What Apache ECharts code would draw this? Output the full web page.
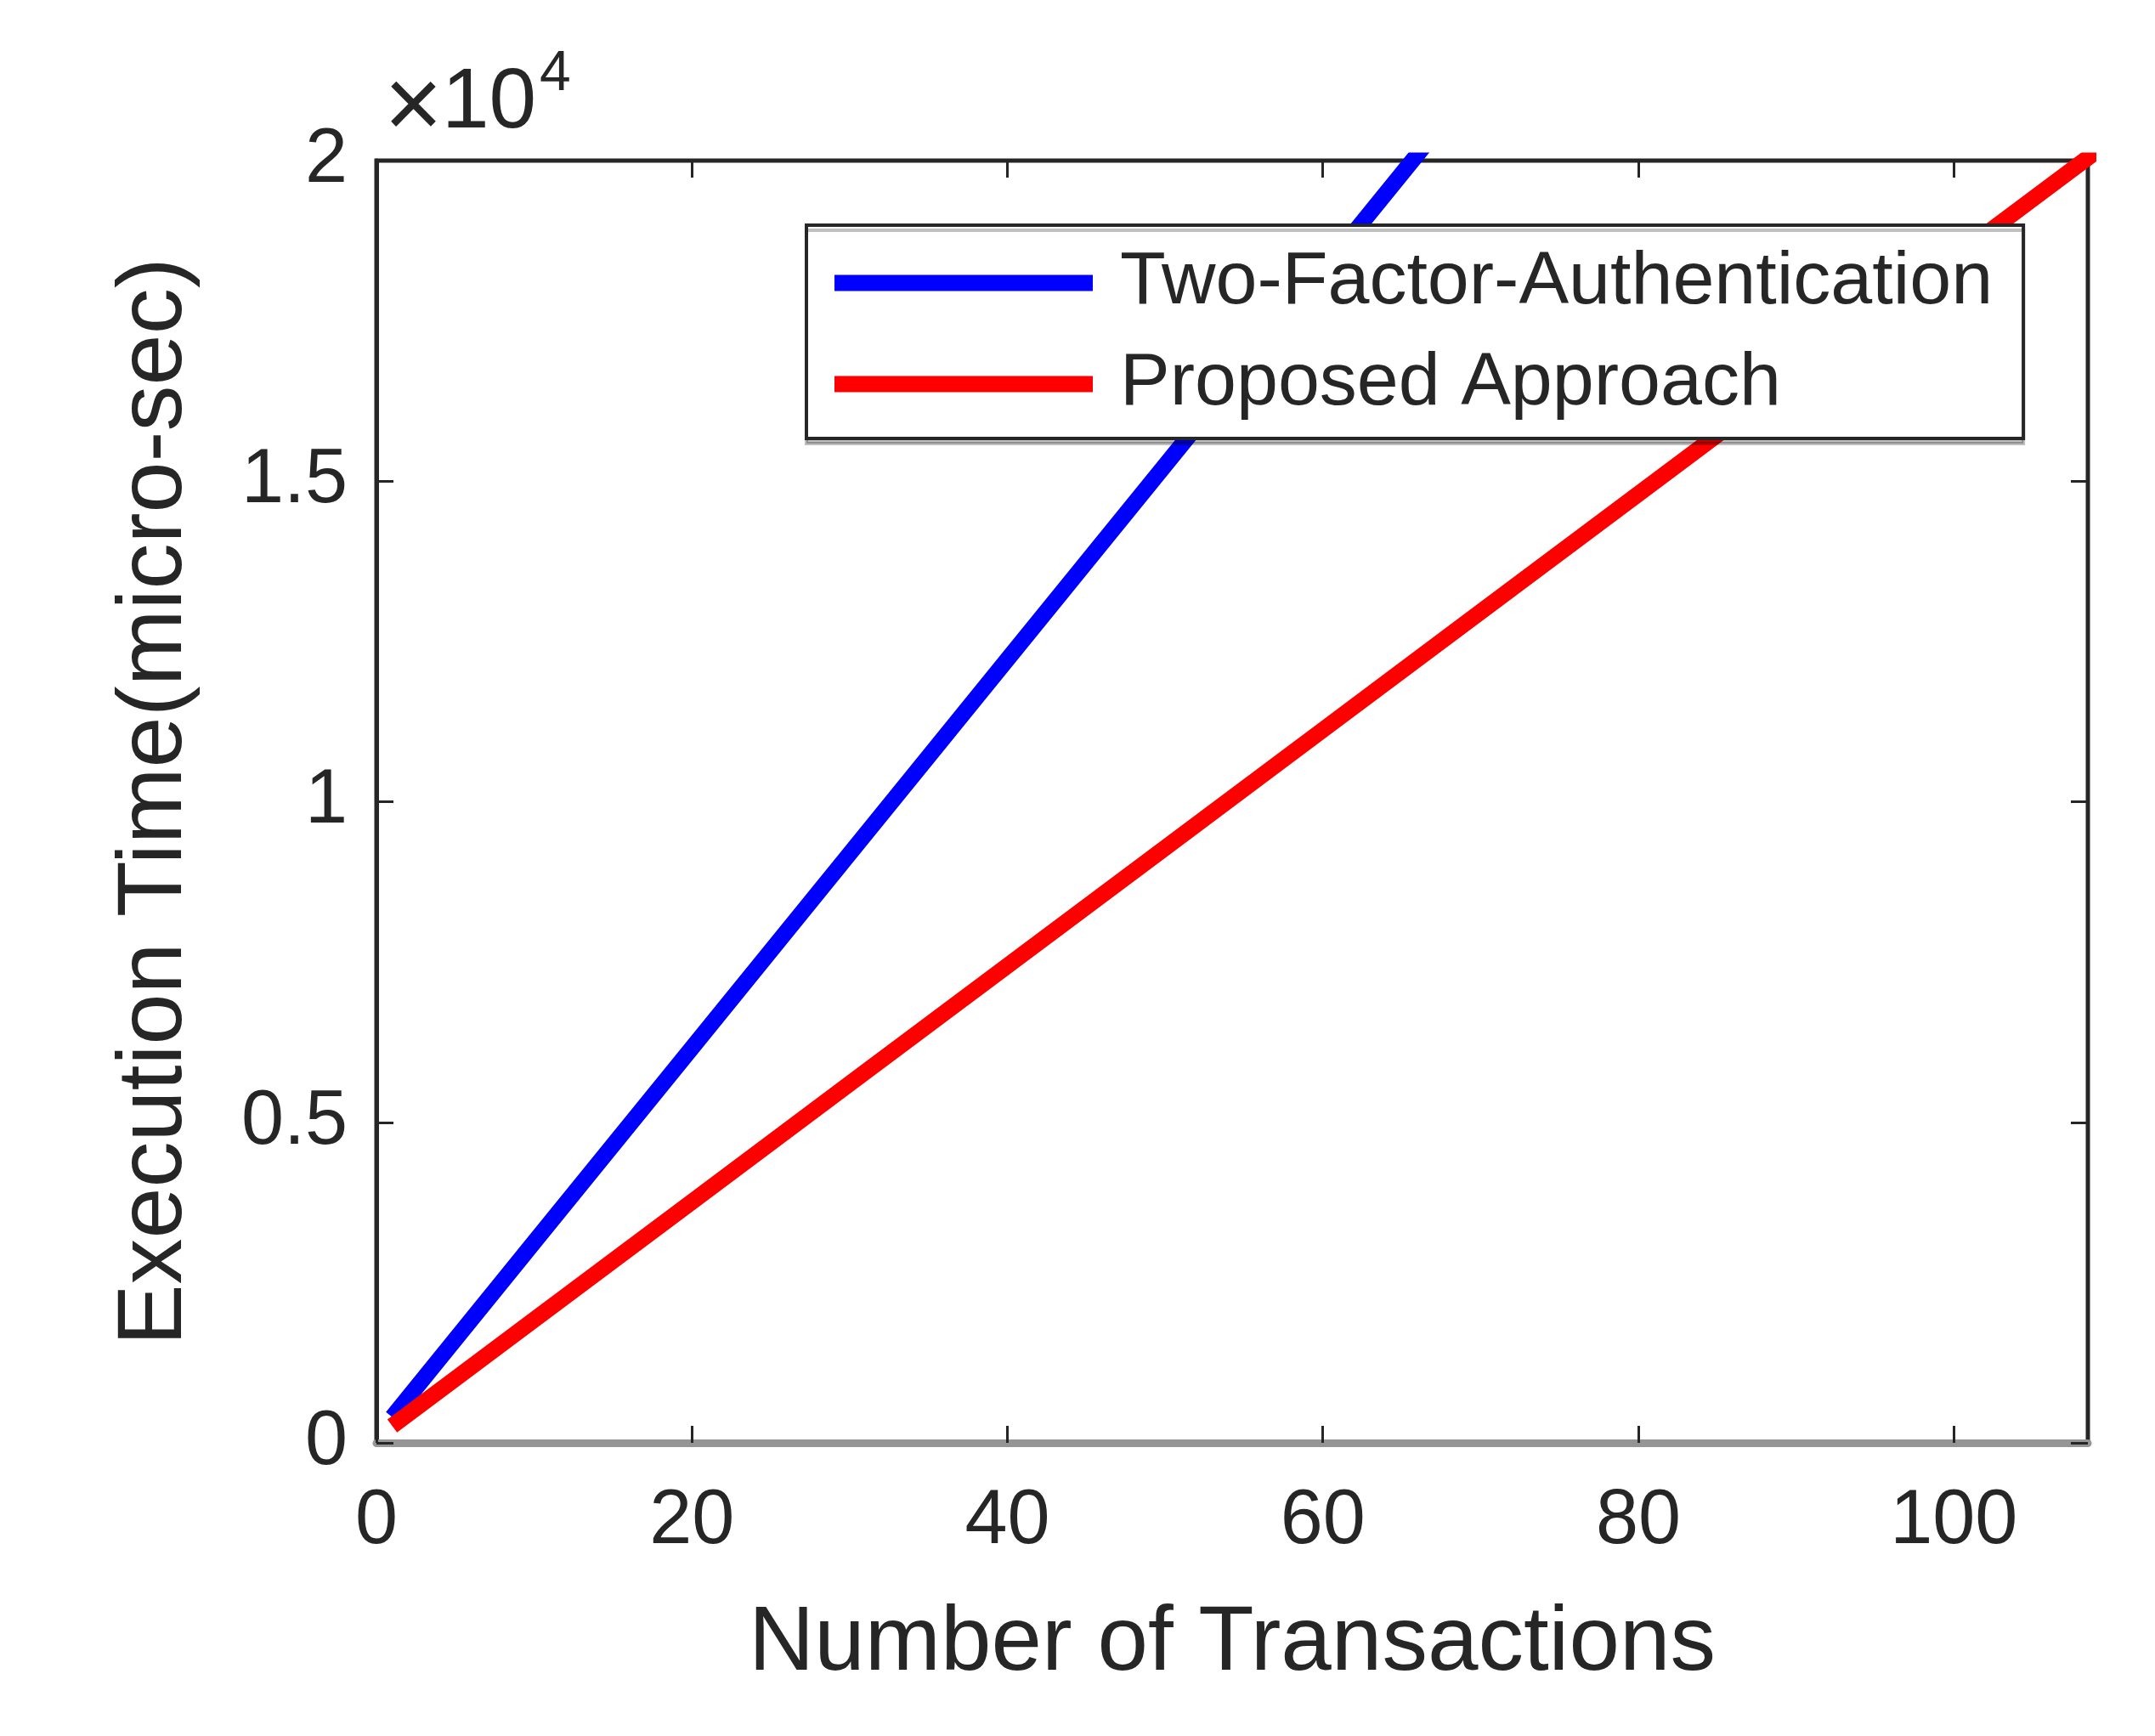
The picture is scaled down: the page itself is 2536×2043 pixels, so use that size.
<!DOCTYPE html>
<html>
<head>
<meta charset="utf-8">
<script src="https://cdn.jsdelivr.net/npm/echarts@6/dist/echarts.min.js"></script>
<style>
html,body{margin:0;padding:0;background:#fff;}
#chart{width:2536px;height:2043px;}
</style>
</head>
<body>
<div id="chart"></div>
<script>
// Data
const transactions = [1, 10, 20, 30, 40, 50, 60, 70, 80, 90, 100, 110];
const twoFactorAuth = [400, 3130, 6160, 9190, 12220, 15250, 18280, 21310, 24340, 27370, 30400, 33430];
const proposedApproach = [264, 1920, 3760, 5600, 7440, 9280, 11120, 12960, 14800, 16640, 18480, 20320];
const seriesNames = ['Two-Factor-Authentication', 'Proposed Approach'];
const xTicks = [0, 20, 40, 60, 80, 100];
const yTicks = [0, 5000, 10000, 15000, 20000];
const yTickLabels = ['0', '0.5', '1', '1.5', '2'];

const FONT = '"Liberation Sans", Arial, Helvetica, sans-serif';
const TXT = '#262626';

function pairs(xs, ys) { return xs.map((x, i) => [x, ys[i]]); }

const tickStyle = {show: true, inside: true, length: 20, lineStyle: {color: TXT, width: 3}};

const chart = echarts.init(document.getElementById('chart'), null, {renderer: 'canvas'});
chart.setOption({
  backgroundColor: '#ffffff',
  animation: false,
  textStyle: {fontFamily: FONT, color: TXT},
  grid: {left: 443, right: 79, top: 189, bottom: 345, show: true, borderColor: TXT, borderWidth: 5, backgroundColor: '#fff'},
  xAxis: [{
    type: 'value', min: 0, max: 108.5, interval: 20, position: 'bottom',
    name: 'Number of Transactions', nameLocation: 'middle', nameGap: 184,
    nameTextStyle: {fontSize: 107, color: TXT, fontFamily: FONT},
    axisLine: {show: true, onZero: false, lineStyle: {color: '#959595', width: 9}},
    axisTick: Object.assign({customValues: xTicks}, tickStyle),
    axisLabel: {fontSize: 90, color: TXT, margin: 48, fontFamily: FONT, customValues: xTicks},
    splitLine: {show: false}
  }, {
    type: 'value', min: 0, max: 108.5, interval: 20, position: 'top',
    axisLine: {show: false, onZero: false},
    axisTick: Object.assign({customValues: xTicks}, tickStyle),
    axisLabel: {show: false},
    splitLine: {show: false}
  }],
  yAxis: [{
    type: 'value', min: 0, max: 20000, interval: 5000, position: 'left',
    name: 'Execution Time(micro-sec)', nameLocation: 'middle', nameGap: 206,
    nameTextStyle: {fontSize: 108, color: TXT, fontFamily: FONT},
    axisLine: {show: true, onZero: false, lineStyle: {color: TXT, width: 5}},
    axisTick: tickStyle,
    axisLabel: {fontSize: 90, color: TXT, margin: 34, fontFamily: FONT,
      formatter: function (v) { const i = yTicks.indexOf(v); return i >= 0 ? yTickLabels[i] : ''; }},
    splitLine: {show: false}
  }, {
    type: 'value', min: 0, max: 20000, interval: 5000, position: 'right',
    axisLine: {show: false, onZero: false},
    axisTick: tickStyle,
    axisLabel: {show: false},
    splitLine: {show: false}
  }],
  legend: {
    orient: 'vertical', left: 949, top: 265,
    padding: [24, 36, 20, 33],
    itemWidth: 304, itemHeight: 19, itemGap: 31,
    icon: 'rect',
    data: seriesNames,
    textStyle: {fontSize: 88, lineHeight: 88, color: TXT, fontFamily: FONT, padding: [0, 0, 0, 27]},
    borderColor: TXT, borderWidth: 4, backgroundColor: '#ffffff',
    shadowColor: 'rgba(0,0,0,0.25)', shadowOffsetX: 0, shadowOffsetY: 6, shadowBlur: 0
  },
  graphic: [
    {type: 'text', left: 452, top: 70, style: {text: '×', fontSize: 118, fill: TXT, fontFamily: FONT}},
    {type: 'text', left: 520, top: 72, style: {text: '10', fontSize: 100, fill: TXT, fontFamily: FONT}},
    {type: 'text', left: 635, top: 55, style: {text: '4', fontSize: 66, fill: TXT, fontFamily: FONT}}
  ],
  series: [{
    name: seriesNames[0], type: 'line', xAxisIndex: 0, yAxisIndex: 0,
    data: pairs(transactions, twoFactorAuth), showSymbol: false, symbol: 'none',
    lineStyle: {color: '#0000ff', width: 19}, itemStyle: {color: '#0000ff'}, clip: true
  }, {
    name: seriesNames[1], type: 'line', xAxisIndex: 0, yAxisIndex: 0,
    data: pairs(transactions, proposedApproach), showSymbol: false, symbol: 'none',
    lineStyle: {color: '#ff0000', width: 19}, itemStyle: {color: '#ff0000'}, clip: true
  }]
});
</script>
</body>
</html>
